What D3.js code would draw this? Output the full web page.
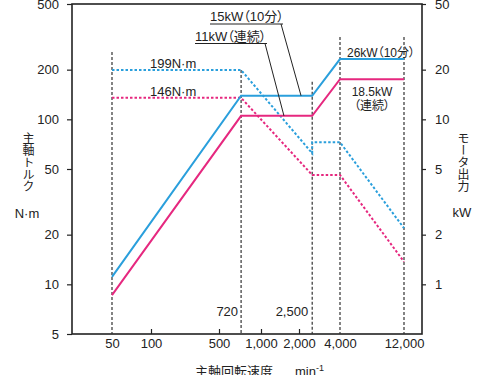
<!DOCTYPE html>
<html>
<head>
<meta charset="utf-8">
<script src="https://cdn.jsdelivr.net/npm/d3@7"></script>
<style>
    body { margin: 0; background: #fff; }
    text { font-family: "Liberation Sans", "Noto Sans CJK JP", sans-serif; font-feature-settings: "palt"; fill: #222; }
    .axis text { font-size: 13px; }
    .axis line { stroke: #222; stroke-width: 1.2; }
</style>
</head>
<body>
<svg width="484" height="375"></svg>
<script>
// tick values
let speedTicks = [50, 100, 500, 1000, 2000, 4000, 12000];
let speedTickLabels = ["50", "100", "500", "1,000", "2,000", "4,000", "12,000"];
let torqueTicks = [5, 10, 20, 50, 100, 200, 500];
let powerTicks = [1, 2, 5, 10, 20, 50];

// motor output, kW (solid lines)
let powerSpeeds = [50, 720, 2500, 4000, 12000];
let power10min = [1.11, 13.9, 13.9, 23.2, 23.2];
let powerCont = [0.86, 10.5, 10.5, 17.5, 17.5];

// spindle torque, N·m (dotted lines)
let torqueSpeeds10min = [50, 720, 2500, 2500, 4000, 12000];
let torque10min = [199, 199, 62.3, 72.6, 72.6, 21.9];
let torqueSpeedsCont = [50, 720, 2500, 4000, 12000];
let torqueCont = [135, 135, 46, 46, 13.7];

// dashed guide lines: speed and the torque where each one starts
let guideSpeeds = [50, 720, 2500, 4000, 12000];
let guideTops = [256, 199, 169, 315, 315];

let svg = d3.select("svg"),
    frame = {left: 72, right: 422, top: 4, bottom: 334},
    blue = "#2a9fdc",
    pink = "#e6287f";

// the printed speed axis is not a strict log scale, so the scale is pinned at each tick
let speedTickPx = [112, 151, 219, 261, 299, 340, 404];

let x = d3.scaleLog().domain(speedTicks).range(speedTickPx),
    yT = d3.scaleLog().domain([5, 500]).range([frame.bottom, frame.top]),
    yP = d3.scaleLog().domain([0.5, 50]).range([frame.bottom, frame.top]);

// axes
svg.append("g")
    .attr("class", "axis")
    .attr("transform", "translate(" + frame.left + ",0)")
    .call(d3.axisLeft(yT).tickValues(torqueTicks).tickFormat(d3.format("d")).tickSizeOuter(0).tickSize(5).tickPadding(8))
    .call(g => g.select(".domain").remove());

svg.append("g")
    .attr("class", "axis")
    .attr("transform", "translate(" + frame.right + ",0)")
    .call(d3.axisRight(yP).tickValues(powerTicks).tickFormat(d3.format("d")).tickSizeOuter(0).tickSize(4).tickPadding(9))
    .call(g => g.select(".domain").remove());

svg.append("g")
    .attr("class", "axis")
    .attr("transform", "translate(0," + frame.bottom + ")")
    .call(d3.axisBottom(x).tickValues(speedTicks)
        .tickFormat((d, i) => speedTickLabels[i]).tickSizeOuter(0).tickSize(-5).tickPadding(5))
    .call(g => g.select(".domain").remove())
    .call(g => g.selectAll(".tick").filter(d => guideSpeeds.includes(d)).select("line").remove());

// frame
svg.append("rect")
    .attr("x", frame.left)
    .attr("y", frame.top)
    .attr("width", frame.right - frame.left)
    .attr("height", frame.bottom - frame.top)
    .attr("fill", "none")
    .attr("stroke", "#222")
    .attr("stroke-width", 1.6);

// dashed guides
svg.append("g").selectAll("line")
    .data(guideSpeeds)
    .join("line")
    .attr("x1", d => x(d))
    .attr("x2", d => x(d))
    .attr("y1", (d, i) => yT(guideTops[i]))
    .attr("y2", frame.bottom)
    .attr("stroke", "#333")
    .attr("stroke-width", 1.2)
    .attr("stroke-dasharray", "3,2");

let torqueLine = d3.line().x(d => x(d[0])).y(d => yT(d[1]));
let powerLine = d3.line().x(d => x(d[0])).y(d => yP(d[1]));

let series = [
    {speeds: torqueSpeeds10min, values: torque10min, line: torqueLine, color: blue, dash: "2.5,2"},
    {speeds: torqueSpeedsCont, values: torqueCont, line: torqueLine, color: pink, dash: "2.5,2"},
    {speeds: powerSpeeds, values: power10min, line: powerLine, color: blue, dash: null},
    {speeds: powerSpeeds, values: powerCont, line: powerLine, color: pink, dash: null}
];

svg.append("g").selectAll("path")
    .data(series)
    .join("path")
    .attr("d", s => s.line(s.speeds.map((v, i) => [v, s.values[i]])))
    .attr("fill", "none")
    .attr("stroke", s => s.color)
    .attr("stroke-width", 2)
    .attr("stroke-dasharray", s => s.dash);

// annotations
svg.append("text").attr("x", x(50) + 38).attr("y", yT(199) - 2.5).attr("font-size", 13).text("199N·m");
svg.append("text").attr("x", x(50) + 38).attr("y", yT(135) - 1.5).attr("font-size", 13).text("146N·m");

svg.append("text").attr("x", x(720) - 3).attr("y", 315.5).attr("font-size", 13).attr("text-anchor", "end").text("720");
svg.append("text").attr("x", x(2500) - 4).attr("y", 315.5).attr("font-size", 13).attr("text-anchor", "end").text("2,500");

let callouts = [
    {label: "15kW（10分）", tx: 210, ty: 21, uy: 24, uEnd: 283, lx: 281, speed: 2070, kw: 13.9},
    {label: "11kW（連続）", tx: 195, ty: 40.5, uy: 43.5, uEnd: 267, lx: 265, speed: 1520, kw: 10.5}
];
callouts.forEach(c => {
    svg.append("text").attr("x", c.tx).attr("y", c.ty).attr("font-size", 13).text(c.label);
    svg.append("line").attr("x1", c.tx).attr("x2", c.uEnd).attr("y1", c.uy).attr("y2", c.uy)
        .attr("stroke", "#222").attr("stroke-width", 1);
    svg.append("line").attr("x1", c.lx).attr("y1", c.uy).attr("x2", x(c.speed)).attr("y2", yP(c.kw))
        .attr("stroke", "#222").attr("stroke-width", 1);
});

svg.append("text").attr("x", 347).attr("y", 56.5).attr("font-size", 12).text("26kW（10分）");
svg.append("text").attr("x", 372).attr("y", 95.5).attr("font-size", 12).attr("text-anchor", "middle").text("18.5kW");
svg.append("text").attr("x", 372).attr("y", 109.5).attr("font-size", 12).attr("text-anchor", "middle").text("（連続）");

// axis titles
svg.append("text").attr("x", 27).attr("y", 132).attr("font-size", 12)
    .style("writing-mode", "vertical-rl").text("主軸トルク");
svg.append("text").attr("x", 27).attr("y", 217.5).attr("font-size", 13).attr("text-anchor", "middle").text("N·m");
svg.append("text").attr("x", 462).attr("y", 132).attr("font-size", 12)
    .style("writing-mode", "vertical-rl").text("モータ出力");
svg.append("text").attr("x", 462).attr("y", 216.5).attr("font-size", 13).attr("text-anchor", "middle").text("kW");

let xTitle = svg.append("text").attr("x", 195).attr("y", 376).attr("font-size", 13);
xTitle.append("tspan").text("主軸回転速度");
xTitle.append("tspan").attr("x", 295).text("min");
xTitle.append("tspan").attr("font-size", 9).attr("dy", -5).text("-1");
</script>
</body>
</html>
